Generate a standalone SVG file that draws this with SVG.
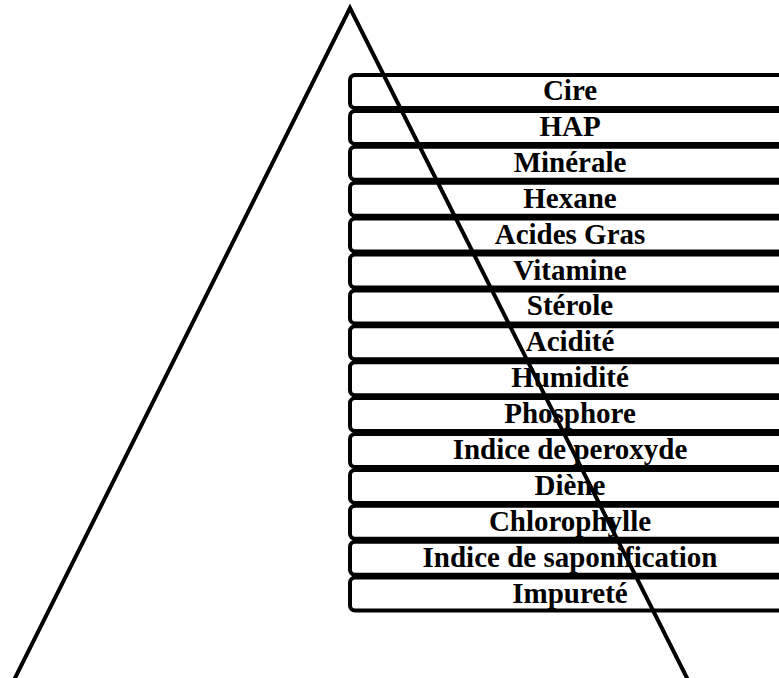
<svg xmlns="http://www.w3.org/2000/svg" width="779" height="678" viewBox="0 0 779 678">
<style>
.box{fill:#fff;stroke:#000;stroke-width:4}
.lbl{font-family:"Liberation Serif",serif;font-weight:bold;font-size:29px;text-anchor:middle;fill:#000}
</style>
<rect width="779" height="678" fill="#fff"/>
<g id="boxes">
<g id="n1"><rect class="box" x="350" y="75" width="460" height="33" rx="5"/><text class="lbl" x="570" y="100">Cire</text></g>
<g id="n2"><rect class="box" x="350" y="110.9" width="460" height="33" rx="5"/><text class="lbl" x="570" y="135.9">HAP</text></g>
<g id="n3"><rect class="box" x="350" y="146.8" width="460" height="33" rx="5"/><text class="lbl" x="570" y="171.8">Minérale</text></g>
<g id="n4"><rect class="box" x="350" y="182.7" width="460" height="33" rx="5"/><text class="lbl" x="570" y="207.7">Hexane</text></g>
<g id="n5"><rect class="box" x="350" y="218.6" width="460" height="33" rx="5"/><text class="lbl" x="570" y="243.6">Acides Gras</text></g>
<g id="n6"><rect class="box" x="350" y="254.5" width="460" height="33" rx="5"/><text class="lbl" x="570" y="279.5">Vitamine</text></g>
<g id="n7"><rect class="box" x="350" y="290.4" width="460" height="33" rx="5"/><text class="lbl" x="570" y="315.4">Stérole</text></g>
<g id="n8"><rect class="box" x="350" y="326.3" width="460" height="33" rx="5"/><text class="lbl" x="570" y="351.3">Acidité</text></g>
<g id="n9"><rect class="box" x="350" y="362.2" width="460" height="33" rx="5"/><text class="lbl" x="570" y="387.2">Humidité</text></g>
<g id="n10"><rect class="box" x="350" y="398.1" width="460" height="33" rx="5"/><text class="lbl" x="570" y="423.1">Phosphore</text></g>
<g id="n11"><rect class="box" x="350" y="434" width="460" height="33" rx="5"/><text class="lbl" x="570" y="459">Indice de peroxyde</text></g>
<g id="n12"><rect class="box" x="350" y="469.9" width="460" height="33" rx="5"/><text class="lbl" x="570" y="494.9">Diène</text></g>
<g id="n13"><rect class="box" x="350" y="505.8" width="460" height="33" rx="5"/><text class="lbl" x="570" y="530.8">Chlorophylle</text></g>
<g id="n14"><rect class="box" x="350" y="541.7" width="460" height="33" rx="5"/><text class="lbl" x="570" y="566.7">Indice de saponification</text></g>
<g id="n15"><rect class="box" x="350" y="577.6" width="460" height="33" rx="5"/><text class="lbl" x="570" y="602.6">Impureté</text></g>
</g>
<g id="connectors">
<polyline points="14,680 350,8 688,680" fill="none" stroke="#000" stroke-width="4"/>
</g>
</svg>
